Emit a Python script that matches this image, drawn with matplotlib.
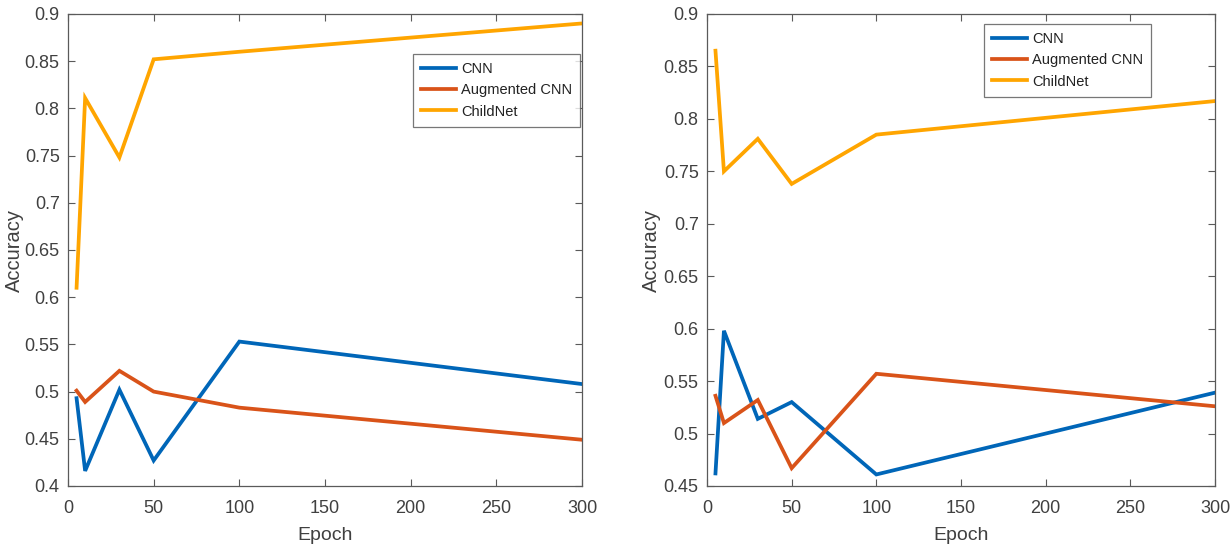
import matplotlib
matplotlib.use("Agg")
import matplotlib.pyplot as plt

plt.rcParams['font.family'] = ['Liberation Sans', 'DejaVu Sans']

epochs = [5, 10, 30, 50, 100, 300]
series_names = ["CNN", "Augmented CNN", "ChildNet"]
colors = ["#0066B8", "#D95319", "#FFA500"]

left_cnn = [0.493, 0.416, 0.502, 0.427, 0.553, 0.508]
left_aug = [0.501, 0.489, 0.522, 0.500, 0.483, 0.449]
left_child = [0.610, 0.811, 0.748, 0.852, 0.860, 0.890]

right_cnn = [0.462, 0.598, 0.514, 0.530, 0.461, 0.539]
right_aug = [0.536, 0.510, 0.532, 0.467, 0.557, 0.526]
right_child = [0.865, 0.750, 0.781, 0.738, 0.785, 0.817]

left_yticks = [0.4, 0.45, 0.5, 0.55, 0.6, 0.65, 0.7, 0.75, 0.8, 0.85, 0.9]
right_yticks = [0.45, 0.5, 0.55, 0.6, 0.65, 0.7, 0.75, 0.8, 0.85, 0.9]
xticks = [0, 50, 100, 150, 200, 250, 300]

W, H = 1232, 547
fig = plt.figure(figsize=(W / 100, H / 100), dpi=100)
ax1 = fig.add_axes([68 / W, 1 - 486 / H, (582 - 68) / W, (486 - 14) / H])
ax2 = fig.add_axes([707 / W, 1 - 486 / H, (1215 - 707) / W, (486 - 14) / H])

txt = "#404040"
spine_c = "#5a5a5a"

def style(ax, data, yticks, ylim, legend_bbox, ylab_x):
    for vals, name, c in zip(data, series_names, colors):
        ax.plot(epochs, vals, color=c, lw=2.7, label=name, solid_joinstyle='miter')
    ax.set_xlim(0, 300)
    ax.set_ylim(*ylim)
    ax.set_xticks(xticks)
    ax.set_yticks(yticks)
    ax.set_yticklabels([f"{v:g}" for v in yticks])
    ax.tick_params(direction='in', top=True, right=True, length=5, width=0.8,
                   colors=spine_c, labelcolor=txt, labelsize=13)
    ax.tick_params(axis='x', pad=10)
    ax.tick_params(axis='y', pad=6)
    for s in ax.spines.values():
        s.set_color(spine_c)
        s.set_linewidth(0.9)
    ax.set_xlabel("Epoch", fontsize=14, color=txt)
    ax.set_ylabel("Accuracy", fontsize=14.5, color=txt)
    ax.xaxis.set_label_coords(0.5, -0.087)
    ax.yaxis.set_label_coords(ylab_x, 0.5)
    leg = ax.legend(loc='upper left', bbox_to_anchor=legend_bbox, bbox_transform=fig.transFigure,
                    fontsize=10.5, frameon=True, fancybox=False, handlelength=2.4,
                    borderpad=0.55, labelspacing=0.5, handletextpad=0.35, borderaxespad=0)
    leg.get_frame().set_edgecolor("#555555")
    leg.get_frame().set_linewidth(0.9)
    for t in leg.get_texts():
        t.set_color("#222222")

style(ax1, [left_cnn, left_aug, left_child], left_yticks, (0.4, 0.9), (413 / W, 1 - 54 / H), -0.0856)
style(ax2, [right_cnn, right_aug, right_child], right_yticks, (0.45, 0.9), (984 / W, 1 - 24 / H), -0.0906)

fig.savefig("out.png", dpi=100)
